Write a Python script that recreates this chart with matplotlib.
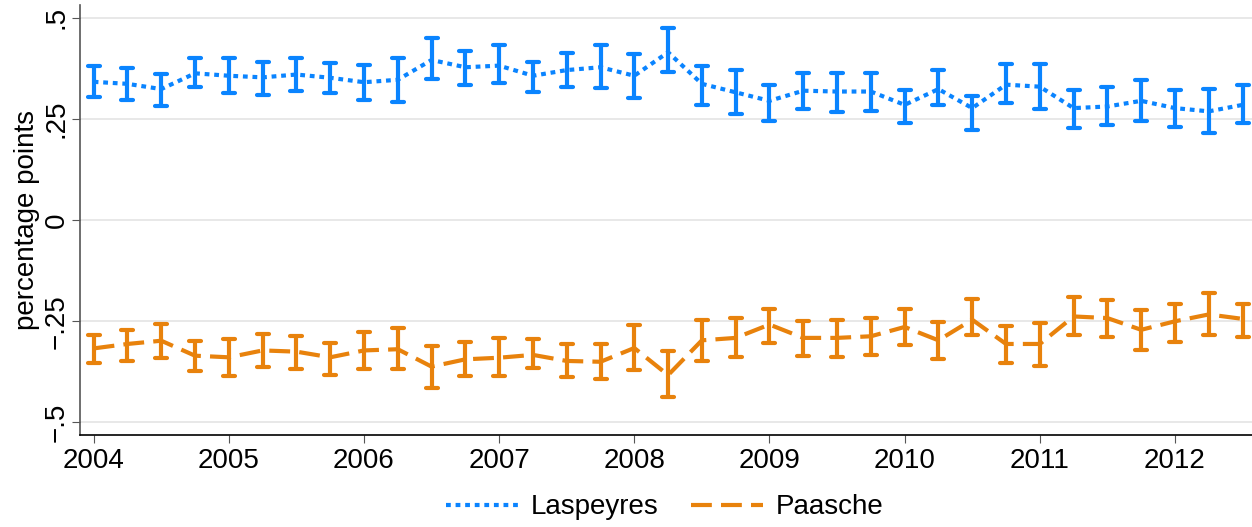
import matplotlib.pyplot as plt
from matplotlib.markers import MarkerStyle
import numpy as np

plt.rcParams['font.family'] = ['Liberation Sans', 'DejaVu Sans']

# quarterly observations, 2004q1 .. 2012q3
quarters = np.arange(2004, 2012.51, 0.25)

lasp = [0.342, 0.337, 0.324, 0.363, 0.357, 0.353, 0.360, 0.352, 0.341, 0.347,
        0.396, 0.378, 0.382, 0.357, 0.371, 0.378, 0.357,
        0.415, 0.337, 0.316, 0.295, 0.320, 0.318, 0.318, 0.285, 0.324,
        0.277, 0.335, 0.330, 0.277, 0.281, 0.295, 0.277, 0.269, 0.285]
lasp_hi = [0.380, 0.375, 0.361, 0.400, 0.400, 0.392, 0.401, 0.389, 0.384, 0.400,
           0.450, 0.419, 0.432, 0.390, 0.413, 0.433, 0.411,
           0.474, 0.380, 0.370, 0.335, 0.363, 0.363, 0.365, 0.322, 0.372,
           0.308, 0.386, 0.385, 0.322, 0.328, 0.347, 0.322, 0.324, 0.333]
lasp_lo = [0.305, 0.297, 0.281, 0.330, 0.314, 0.310, 0.320, 0.314, 0.297, 0.293,
           0.349, 0.333, 0.338, 0.316, 0.328, 0.326, 0.301,
           0.366, 0.285, 0.262, 0.246, 0.276, 0.268, 0.270, 0.239, 0.285,
           0.224, 0.289, 0.274, 0.228, 0.235, 0.246, 0.231, 0.215, 0.239]

paas = [-0.317, -0.306, -0.298, -0.335, -0.339, -0.322, -0.325, -0.339, -0.322, -0.319,
        -0.362, -0.344, -0.340, -0.333, -0.348, -0.350, -0.316,
        -0.383, -0.297, -0.291, -0.258, -0.291, -0.291, -0.287, -0.264, -0.297,
        -0.246, -0.306, -0.306, -0.238, -0.242, -0.271, -0.250, -0.233, -0.244]
paas_hi = [-0.283, -0.271, -0.257, -0.298, -0.294, -0.282, -0.286, -0.304, -0.277, -0.267,
           -0.311, -0.300, -0.291, -0.293, -0.306, -0.306, -0.258,
           -0.323, -0.248, -0.242, -0.219, -0.250, -0.246, -0.242, -0.219, -0.252,
           -0.194, -0.261, -0.254, -0.189, -0.197, -0.223, -0.206, -0.180, -0.207]
paas_lo = [-0.352, -0.348, -0.341, -0.374, -0.384, -0.364, -0.368, -0.383, -0.369, -0.369,
           -0.414, -0.384, -0.384, -0.366, -0.388, -0.393, -0.370,
           -0.437, -0.348, -0.339, -0.304, -0.335, -0.337, -0.333, -0.308, -0.343,
           -0.285, -0.352, -0.360, -0.285, -0.289, -0.321, -0.302, -0.285, -0.289]

yticks = [-0.5, -0.25, 0, 0.25, 0.5]
ylabels = ['\u2212.5', '\u2212.25', '0', '.25', '.5']
xticks = list(range(2004, 2013))

blue = '#0a84ff'
orange = '#e8820c'

fig = plt.figure(figsize=(12.52, 5.27), dpi=100)
ax = fig.add_axes([0.064, 0.1746, 0.936, 0.816])

def draw(y, lo, hi, color, dashes, label):
    y = np.array(y)
    err = [y - np.array(lo), np.array(hi) - y]
    _, caps, bars = ax.errorbar(quarters, y, yerr=err, fmt='none', ecolor=color,
                                elinewidth=3.0, capsize=4.5, capthick=3.0, zorder=3)
    for c in caps:
        c.set_marker(MarkerStyle('_', capstyle='round'))
    for b in bars:
        b.set_capstyle('round')
    ax.plot(quarters, y, color=color, lw=3, dashes=dashes, label=label,
            dash_capstyle='butt', zorder=3)

draw(lasp, lasp_lo, lasp_hi, blue, (1.15, 1.15), 'Laspeyres')
draw(paas, paas_lo, paas_hi, orange, (5, 2.2), 'Paasche')

ax.set_xlim(2003.9, 2012.57)
ax.set_ylim(-0.531, 0.532)
ax.set_yticks(yticks)
ax.set_yticklabels(ylabels, rotation=90, va='center')
ax.set_xticks(xticks)
ax.tick_params(labelsize=20, length=6, color='#555555')
ax.tick_params(axis='y', pad=1.5)
ax.grid(axis='y', color='#e4e4e4', lw=1.2)
ax.set_axisbelow(True)
for s in ['top', 'right']:
    ax.spines[s].set_visible(False)
ax.spines['left'].set_color('#555555')
ax.spines['left'].set_linewidth(1.2)
ax.spines['bottom'].set_color('black')
ax.spines['bottom'].set_linewidth(1.2)
ax.set_ylabel('percentage points', fontsize=20, labelpad=3)

fig.legend(loc='lower center', bbox_to_anchor=(0.531, -0.035), ncol=2,
           frameon=False, fontsize=20, handlelength=2.6, columnspacing=1.15,
           handletextpad=0.45)

fig.savefig('out.png', dpi=100)
